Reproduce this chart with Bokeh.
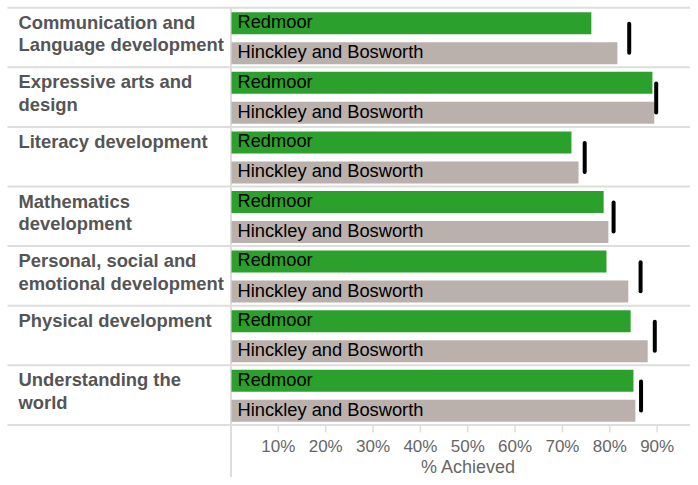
from bokeh.plotting import figure
from bokeh.models import Range1d
from bokeh.embed import file_html
from bokeh.resources import INLINE
from bokeh.core.properties import value

# ---------------- data ----------------
categories = [
    "Communication and\nLanguage development",
    "Expressive arts and\ndesign",
    "Literacy development",
    "Mathematics\ndevelopment",
    "Personal, social and\nemotional development",
    "Physical development",
    "Understanding the\nworld",
]
redmoor = [76.1, 89.0, 71.9, 78.7, 79.3, 84.4, 85.0]
hinckley = [81.6, 89.4, 73.4, 79.7, 83.9, 88.0, 85.4]
england = [84.1, 89.8, 74.7, 80.8, 86.5, 89.5, 86.6]
series_names = ["Redmoor", "Hinckley and Bosworth"]
tick_values = [10, 20, 30, 40, 50, 60, 70, 80, 90]
tick_labels = [f"{v}%" for v in tick_values]
x_title = "% Achieved"

# ---------------- layout ----------------
W, H = 690, 477
PX = 4.735          # pixels per percent
X0 = 230.5          # pixel position of 0%
ROW0 = 7.2          # top of first row (px from top)
RH = 59.6           # row height in px
TDY = -6.0          # text baseline correction
FONT = value("Liberation Sans")

def px_to_x(px):
    return (px - X0) / PX

n = len(categories)
row_tops = [ROW0 + i * RH for i in range(n)]
bottom = ROW0 + n * RH

p = figure(width=W, height=H,
           x_range=Range1d(px_to_x(0), px_to_x(W)),
           y_range=Range1d(H, 0),
           output_backend="svg", toolbar_location=None,
           min_border=0, x_axis_location=None, y_axis_location=None)
p.grid.grid_line_color = None
p.outline_line_color = None
p.background_fill_color = "white"
p.border_fill_color = "white"

# separators
seps = row_tops + [bottom]
p.segment(x0=[px_to_x(7)] * len(seps), x1=[px_to_x(W + 5)] * len(seps),
          y0=seps, y1=seps, line_color="#dddddd", line_width=2)
p.segment(x0=[0], x1=[0], y0=[ROW0], y1=[H + 5], line_color="#dddddd", line_width=2)

# bars
g_cent = [t + 4.5 + 11 for t in row_tops]
b_cent = [t + 34.5 + 11 for t in row_tops]
p.hbar(y=g_cent, left=0.1, right=redmoor, height=22, fill_color="#2ca02c", line_color=None)
p.hbar(y=b_cent, left=0.1, right=hinckley, height=22, fill_color="#bab0ac", line_color=None)

# England markers
m_cent = [t + RH / 2 + 0.8 for t in row_tops]
p.segment(x0=england, x1=england,
          y0=[c - 14.5 for c in m_cent], y1=[c + 14.5 for c in m_cent],
          line_color="black", line_width=4, line_cap="round")

# bar labels
lx = px_to_x(237)
p.text(x=[lx] * n, y=[t + 4.5 + 15.3 + TDY for t in row_tops], text=[series_names[0]] * n,
       text_font=FONT, text_font_size="18.3px", text_color="black",
       text_align="left", text_baseline="alphabetic")
p.text(x=[lx] * n, y=[t + 34.5 + 15.5 + TDY for t in row_tops], text=[series_names[1]] * n,
       text_font=FONT, text_font_size="18.3px", text_color="black",
       text_align="left", text_baseline="alphabetic")

# category labels (each line separately)
cx, cy, ct = [], [], []
for i, cat in enumerate(categories):
    for j, line in enumerate(cat.split("\n")):
        cx.append(px_to_x(18))
        cy.append(row_tops[i] + 20.6 + j * 22.4 + TDY)
        ct.append(line)
p.text(x=cx, y=cy, text=ct, text_font=FONT, text_font_size="18.4px",
       text_font_style="bold", text_color="#555555",
       text_align="left", text_baseline="alphabetic")

# x axis ticks + labels
p.segment(x0=tick_values, x1=tick_values, y0=[bottom] * len(tick_values),
          y1=[bottom + 7.5] * len(tick_values), line_color="#dddddd", line_width=1.5)
p.text(x=tick_values, y=[bottom + 27.1 + TDY] * len(tick_values), text=tick_labels,
       text_font=FONT, text_font_size="17px", text_color="#666666",
       text_align="center", text_baseline="alphabetic")
p.text(x=[px_to_x(468)], y=[bottom + 48.0 + TDY], text=[x_title],
       text_font=FONT, text_font_size="18px", text_color="#666666",
       text_align="center", text_baseline="alphabetic")

open("out.html", "w").write(file_html(p, INLINE))
